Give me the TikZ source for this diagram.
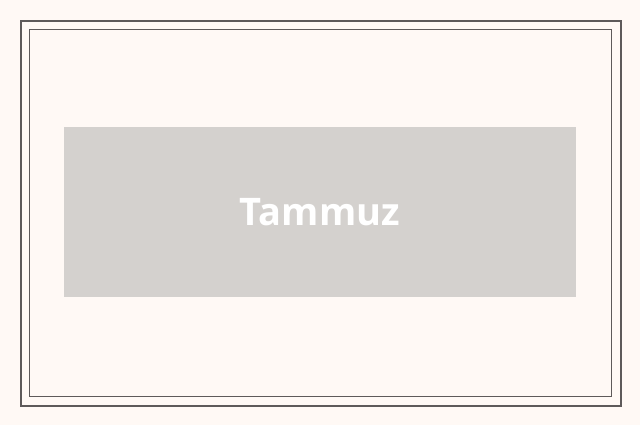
\documentclass[tikz,border=0pt]{standalone}
\usepackage{fontspec}
\setsansfont{Open Sans}
\definecolor{bg}{HTML}{FFF9F5}
\definecolor{frame}{HTML}{5E5A5A}
\definecolor{boxgrey}{HTML}{D4D1CE}
\begin{document}
\begin{tikzpicture}[x=1pt,y=-1pt,
  outerframe/.style={draw=frame,line width=2pt},
  innerframe/.style={draw=frame,line width=1pt},
  titlebox/.style={fill=boxgrey,draw=none,minimum width=512pt,minimum height=170pt,inner sep=0pt,
    font=\sffamily\bfseries\fontsize{38}{45}\selectfont,text=white}]
\fill[bg] (0,0) rectangle (640,425);
\useasboundingbox (0,0) rectangle (640,425);
\draw[outerframe] (21,21) rectangle (621,406);
\draw[innerframe] (29.5,29.5) rectangle (611.5,396.5);
\node[titlebox] (title) at (320,212) {Tammuz};
\end{tikzpicture}
\end{document}
